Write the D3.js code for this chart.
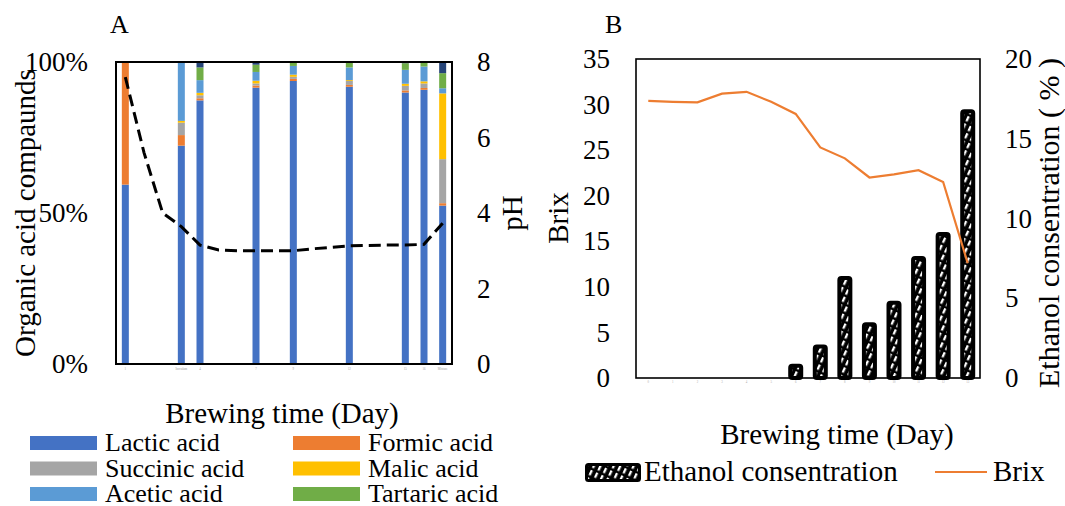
<!DOCTYPE html>
<html>
<head>
<meta charset="utf-8">
<script src="https://cdn.jsdelivr.net/npm/d3@7/dist/d3.min.js"></script>
<style>
  body { margin: 0; background: #fff; }
  text { font-family: "Liberation Serif", "Times New Roman", serif; fill: #000; }
</style>
</head>
<body>
<div id="graph"></div>
<script>
// Panel A data: organic acids (100% stacked) and pH
let daysA = d3.range(0, 18).map(String);
let acidDays = ["0", "3", "4", "7", "9", "12", "15", "16", "17"];
let acidTickLabels = ["1", "Inoculum", "4", "7", "9", "12", "15", "16", "Mixture"];
let lactic   = [59.4, 72.3, 87.2, 91.6, 93.8, 91.9, 89.9, 90.8, 52.5];
let formic   = [40.6, 3.5, 0.7, 0.7, 0.7, 0.6, 0.7, 0.6, 0.8];
let succinic = [0, 4.1, 1.0, 0.7, 0.7, 1.3, 1.5, 1.5, 14.6];
let malic    = [0, 0.6, 0.8, 0.9, 0.7, 0.3, 0.7, 0.7, 21.8];
let acetic   = [0, 19.5, 4.2, 2.9, 2.9, 4.2, 4.6, 4.9, 1.7];
let tartaric = [0, 0, 4.2, 2.4, 1.3, 1.8, 2.2, 1.5, 5.0];
let other    = [0, 0, 1.8, 0.9, 0, 0, 0.4, 0, 3.7];
let phValues = [7.6, 5.6, 4.0, 3.64, 3.15, 3.02, 3.0, 3.0, 3.0, 3.0, 3.05, 3.09, 3.13, 3.14, 3.15, 3.15, 3.17, 3.73];

let acidNames  = ["Lactic acid", "Formic acid", "Succinic acid", "Malic acid", "Acetic acid", "Tartaric acid", "Other"];
let acidColors = ["#4472C4", "#ED7D31", "#A5A5A5", "#FFC000", "#5B9BD5", "#70AD47", "#264478"];
let acidSeries = [lactic, formic, succinic, malic, acetic, tartaric, other];

// Panel B data: ethanol and Brix
let daysB = d3.range(0, 14).map(String);
let brix    = [30.4, 30.3, 30.25, 31.2, 31.4, 30.3, 28.97, 25.3, 24.1, 22.0, 22.35, 22.8, 21.5, 12.6];
let ethanol = [null, null, null, null, null, null, 0.9, 2.1, 6.4, 3.5, 4.85, 7.65, 9.15, 16.85];

let svgWidth = 1065, svgHeight = 506;
let svg = d3.select("#graph").append("svg")
  .attr("width", svgWidth)
  .attr("height", svgHeight);

// hatch pattern for ethanol bars
let defs = svg.append("defs");
let pat = defs.append("pattern")
  .attr("id", "hatch")
  .attr("patternUnits", "userSpaceOnUse")
  .attr("width", 6).attr("height", 8)
  .attr("patternTransform", "rotate(25)");
pat.append("rect").attr("width", 6).attr("height", 8).attr("fill", "#000");
pat.append("rect").attr("x", 2).attr("width", 2.3).attr("height", 5.5).attr("fill", "#fff");

// ===================== Panel A =====================
let A = { left: 116, right: 452, top: 62, bottom: 364 };

let xA = d3.scaleBand().domain(daysA).range([A.left, A.right]);
let yPct = d3.scaleLinear().domain([0, 1]).range([A.bottom, A.top]);
let yPh = d3.scaleLinear().domain([0, 8]).range([A.bottom, A.top]);

let acidRows = acidDays.map((day, i) => {
  let row = { day: day };
  acidNames.forEach((n, k) => row[n] = acidSeries[k][i]);
  return row;
});
let stacked = d3.stack().keys(acidNames).offset(d3.stackOffsetExpand)(acidRows);

let barW = 7;
svg.append("g").selectAll("g")
  .data(stacked)
  .enter().append("g")
  .attr("fill", (d, i) => acidColors[i])
  .selectAll("rect")
  .data(d => d)
  .enter().append("rect")
  .attr("x", d => xA(d.data.day) + xA.bandwidth() / 2 - barW / 2)
  .attr("width", barW)
  .attr("y", d => yPct(d[1]))
  .attr("height", d => Math.max(0, yPct(d[0]) - yPct(d[1])));

// pH dashed line
svg.append("path")
  .datum(phValues)
  .attr("fill", "none")
  .attr("stroke", "#000")
  .attr("stroke-width", 3)
  .attr("stroke-dasharray", "12,6")
  .attr("d", d3.line()
    .x((d, i) => xA(daysA[i]) + xA.bandwidth() / 2)
    .y(d => yPh(d)));

// frame
svg.append("rect")
  .attr("x", A.left).attr("y", A.top)
  .attr("width", A.right - A.left).attr("height", A.bottom - A.top)
  .attr("fill", "none").attr("stroke", "#000").attr("stroke-width", 2);

// axes
let axA = svg.append("g")
  .attr("transform", `translate(${A.left},0)`)
  .call(d3.axisLeft(yPct).tickValues([0, 0.5, 1]).tickFormat(d3.format(".0%")).tickSize(0).tickPadding(28));
let axPh = svg.append("g")
  .attr("transform", `translate(${A.right},0)`)
  .call(d3.axisRight(yPh).tickValues([0, 2, 4, 6, 8]).tickSize(0).tickPadding(25));
[axA, axPh].forEach(g => {
  g.select(".domain").remove();
  g.selectAll("text").attr("font-size", 27).attr("fill", "#000");
  g.attr("font-family", null);
});

// tiny category labels
svg.append("g").selectAll("text")
  .data(acidDays)
  .enter().append("text")
  .attr("x", d => xA(d) + xA.bandwidth() / 2)
  .attr("y", A.bottom + 6)
  .attr("text-anchor", "middle")
  .attr("font-size", 3)
  .style("fill", "#999")
  .text((d, i) => acidTickLabels[i]);

// titles
svg.append("text").attr("x", 110).attr("y", 33).attr("font-size", 26).text("A");
svg.append("text")
  .attr("transform", "translate(25,213) rotate(-90)")
  .attr("dy", "0.35em").attr("text-anchor", "middle").attr("font-size", 29)
  .text("Organic acid compaunds");
svg.append("text")
  .attr("transform", "translate(512,213) rotate(-90)")
  .attr("dy", "0.35em").attr("text-anchor", "middle").attr("font-size", 29)
  .text("pH");
svg.append("text")
  .attr("x", (A.left + A.right) / 2 - 2).attr("y", 423)
  .attr("text-anchor", "middle").attr("font-size", 29)
  .text("Brewing time (Day)");

// legend A
let legendNames = acidNames.slice(0, 6);
let legA = svg.append("g").selectAll("g")
  .data(legendNames)
  .enter().append("g")
  .attr("transform", (d, i) => `translate(${i % 2 === 0 ? 30 : 293},${436 + Math.floor(i / 2) * 25.5})`);
legA.append("rect").attr("width", 67).attr("height", 14).attr("fill", (d, i) => acidColors[i]);
legA.append("text").attr("x", 75).attr("y", 15).attr("font-size", 26).text(d => d);

// ===================== Panel B =====================
let B = { left: 636, right: 980, top: 59, bottom: 378 };

let xB = d3.scaleBand().domain(daysB).range([B.left, B.right]);
let yBrix = d3.scaleLinear().domain([0, 35]).range([B.bottom, B.top]);
let yEth = d3.scaleLinear().domain([0, 20]).range([B.bottom, B.top]);

let ethW = 11;
svg.append("g").selectAll("rect")
  .data(ethanol.map((v, i) => ({ day: daysB[i], v: v })).filter(d => d.v !== null))
  .enter().append("rect")
  .attr("x", d => xB(d.day) + xB.bandwidth() / 2 - ethW / 2)
  .attr("width", ethW)
  .attr("y", d => yEth(d.v) + 2)
  .attr("height", d => yEth(0) - yEth(d.v) - 2)
  .attr("rx", 2)
  .attr("fill", "url(#hatch)")
  .attr("stroke", "#000")
  .attr("stroke-width", 4);

svg.append("path")
  .datum(brix)
  .attr("fill", "none")
  .attr("stroke", "#ED7D31")
  .attr("stroke-width", 2.2)
  .attr("d", d3.line()
    .x((d, i) => xB(daysB[i]) + xB.bandwidth() / 2)
    .y(d => yBrix(d)));

svg.append("rect")
  .attr("x", B.left).attr("y", B.top)
  .attr("width", B.right - B.left).attr("height", B.bottom - B.top)
  .attr("fill", "none").attr("stroke", "#000").attr("stroke-width", 1.6);

let axBrix = svg.append("g")
  .attr("transform", `translate(${B.left},0)`)
  .call(d3.axisLeft(yBrix).tickValues(d3.range(0, 36, 5)).tickSize(0).tickPadding(26));
let axEth = svg.append("g")
  .attr("transform", `translate(${B.right},0)`)
  .call(d3.axisRight(yEth).tickValues([0, 5, 10, 15, 20]).tickSize(0).tickPadding(25));
[axBrix, axEth].forEach(g => {
  g.select(".domain").remove();
  g.selectAll("text").attr("font-size", 27).attr("fill", "#000");
  g.attr("font-family", null);
});

svg.append("g").selectAll("text")
  .data(daysB)
  .enter().append("text")
  .attr("x", d => xB(d) + xB.bandwidth() / 2)
  .attr("y", B.bottom + 5)
  .attr("text-anchor", "middle")
  .attr("font-size", 3)
  .style("fill", "#aaa")
  .text(d => d);

svg.append("text").attr("x", 605).attr("y", 33).attr("font-size", 26).text("B");
svg.append("text")
  .attr("transform", "translate(558,218) rotate(-90)")
  .attr("dy", "0.35em").attr("text-anchor", "middle").attr("font-size", 29)
  .text("Brix");
svg.append("text")
  .attr("transform", "translate(1048,223) rotate(-90)")
  .attr("dy", "0.35em").attr("text-anchor", "middle").attr("font-size", 30)
  .text("Ethanol consentration ( % )");
svg.append("text")
  .attr("x", 837).attr("y", 444)
  .attr("text-anchor", "middle").attr("font-size", 29)
  .text("Brewing time (Day)");

// legend B
svg.append("rect")
  .attr("x", 586.5).attr("y", 464.5).attr("width", 53).attr("height", 16).attr("rx", 2)
  .attr("fill", "url(#hatch)").attr("stroke", "#000").attr("stroke-width", 3);
svg.append("text").attr("x", 644).attr("y", 481).attr("font-size", 29).text("Ethanol consentration");
svg.append("line")
  .attr("x1", 935).attr("x2", 987).attr("y1", 472).attr("y2", 472)
  .attr("stroke", "#ED7D31").attr("stroke-width", 2.2);
svg.append("text").attr("x", 993).attr("y", 481).attr("font-size", 29).text("Brix");
</script>
</body>
</html>
